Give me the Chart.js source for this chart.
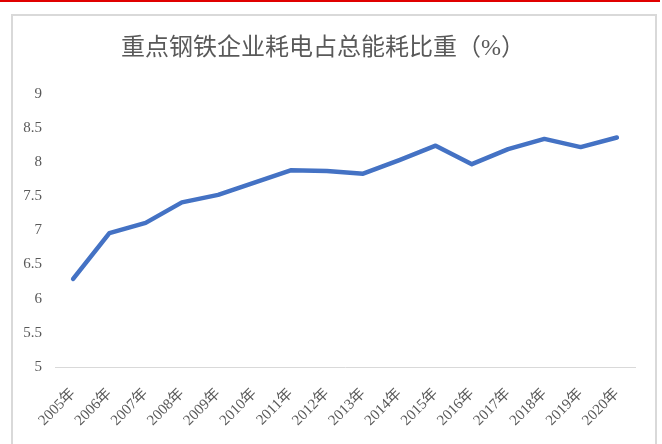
<!DOCTYPE html>
<html>
<head>
<meta charset="utf-8">
<script src="https://cdn.jsdelivr.net/npm/chart.js@4/dist/chart.umd.min.js"></script>
<style>
    html, body { margin: 0; padding: 0; background: #fff; }
    #wrap { position: relative; width: 662px; height: 444px; overflow: hidden; }
    #redline { position: absolute; left: 0; top: 0; width: 660px; height: 2px; background: #e00000; }
    #frame { position: absolute; left: 11px; top: 14px; width: 642px; height: 440px;
             border: 2px solid #d9d9d9; border-bottom: none; }
    #chartBox { position: absolute; left: 0; top: 0; width: 662px; height: 444px; }
</style>
</head>
<body>
<div id="wrap">
    <div id="redline"></div>
    <div id="frame"></div>
    <div id="chartBox"><canvas id="elecChart"></canvas></div>
</div>
<script>
// Data
const years = ["2005年", "2006年", "2007年", "2008年", "2009年", "2010年", "2011年", "2012年",
               "2013年", "2014年", "2015年", "2016年", "2017年", "2018年", "2019年", "2020年"];
const elecShare = [6.29, 6.96, 7.11, 7.41, 7.52, 7.70, 7.88, 7.87,
                   7.83, 8.03, 8.24, 7.97, 8.19, 8.34, 8.22, 8.36];
const yMin = 5;
const yMax = 9;
const yStep = 0.5;

const fontFamily = "'Liberation Serif', 'Noto Sans CJK SC', serif";

const elecChart = new Chart(document.getElementById("elecChart"), {
    type: "line",
    data: {
        labels: years,
        datasets: [{
            label: "重点钢铁企业耗电占总能耗比重",
            data: elecShare,
            borderColor: "#4472C4",
            backgroundColor: "#4472C4",
            borderWidth: 4.5,
            pointRadius: 0,
            tension: 0,
            borderJoinStyle: "round",
            borderCapStyle: "round",
        }],
    },
    options: {
        responsive: true,
        maintainAspectRatio: false,
        animation: false,
        layout: { padding: { left: 11, right: 27, top: 0, bottom: 0 } },
        plugins: {
            legend: { display: false },
            tooltip: { enabled: false },
            title: {
                display: true,
                text: "重点钢铁企业耗电占总能耗比重（%）",
                color: "#595959",
                font: { family: fontFamily, size: 24, weight: "normal" },
                padding: { top: 34, bottom: 31 },
            },
        },
        scales: {
            x: {
                offset: true,
                grid: { display: false },
                border: { display: true, color: "#d9d9d9", width: 1 },
                ticks: {
                    color: "#595959",
                    font: { family: fontFamily, size: 15 },
                    minRotation: 45,
                    maxRotation: 45,
                    padding: 10,
                },
                afterFit: (scale) => { scale.height = 77; },
            },
            y: {
                min: yMin,
                max: yMax,
                grid: { display: false, drawTicks: false },
                border: { display: false },
                ticks: {
                    stepSize: yStep,
                    color: "#595959",
                    font: { family: fontFamily, size: 15 },
                    padding: 13,
                    callback: (value) => String(value),
                },
                afterFit: (scale) => { scale.width = 44; },
            },
        },
    },
});
</script>
</body>
</html>
